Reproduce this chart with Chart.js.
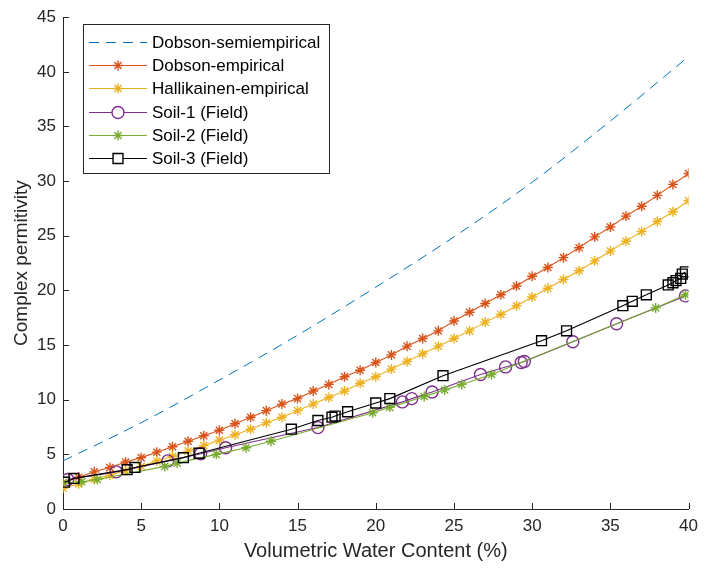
<!DOCTYPE html>
<html>
<head>
<meta charset="utf-8">
<script src="https://cdn.jsdelivr.net/npm/chart.js@4.4.1/dist/chart.umd.min.js"></script>
<style>
  html, body { margin: 0; padding: 0; background: #fff; }
  #wrap { width: 705px; height: 568px; }
</style>
</head>
<body>
<div id="wrap"><canvas id="myChart"></canvas></div>
<script>
    // Model curves (x = volumetric water content, %)
    const modelX = [0, 1, 2, 3, 4, 5, 6, 7, 8, 9, 10, 11, 12, 13, 14, 15, 16, 17, 18, 19, 20,
        21, 22, 23, 24, 25, 26, 27, 28, 29, 30, 31, 32, 33, 34, 35, 36, 37, 38, 39, 40];
    const dobsonEmpY = [2.4, 2.9, 3.4, 3.8, 4.3, 4.7, 5.2, 5.7, 6.2, 6.7, 7.2, 7.8, 8.4, 9.0, 9.6,
        10.1, 10.8, 11.4, 12.1, 12.7, 13.4, 14.1, 14.9, 15.6, 16.3, 17.2, 18.0, 18.8, 19.6, 20.4,
        21.3, 22.1, 23.0, 23.9, 24.9, 25.8, 26.8, 27.7, 28.7, 29.7, 30.7];
    const hallikainenY = [1.9, 2.3, 2.7, 3.1, 3.5, 3.9, 4.4, 4.8, 5.3, 5.8, 6.3, 6.8, 7.3, 7.9, 8.4,
        9.0, 9.6, 10.2, 10.8, 11.5, 12.1, 12.8, 13.5, 14.2, 14.9, 15.6, 16.3, 17.1, 17.8, 18.6,
        19.4, 20.2, 21.0, 21.8, 22.7, 23.6, 24.5, 25.4, 26.3, 27.2, 28.2];

    const semiX = [0, 5, 10, 15, 20, 25, 30, 35, 40];
    const semiY = [4.4, 7.9, 11.8, 15.9, 20.3, 24.9, 29.9, 35.5, 41.4];

    // Field measurements
    const soil1X = [0.3, 3.4, 6.7, 8.8, 10.4, 16.3, 21.7, 22.3, 23.6, 26.7, 28.3, 29.3, 29.5, 32.6, 35.4, 39.8];
    const soil1Y = [2.7, 3.4, 4.4, 5.05, 5.6, 7.45, 9.8, 10.1, 10.7, 12.3, 13.0, 13.4, 13.5, 15.3, 16.95, 19.5];

    const soil2X = [0, 1.2, 2.2, 6.5, 7.3, 9.8, 11.7, 13.3, 19.8, 20.9, 23.1, 24.4, 25.5, 27.4, 37.9, 39.8];
    const soil2Y = [2.4, 2.5, 2.7, 3.9, 4.2, 5.0, 5.6, 6.2, 8.8, 9.3, 10.3, 10.9, 11.4, 12.3, 18.4, 19.6];

    const soil3X = [0.1, 0.7, 4.1, 4.6, 7.7, 8.7, 14.6, 16.3, 17.2, 17.4, 18.2, 20.0, 20.9, 24.3,
        30.6, 32.2, 35.8, 36.4, 37.3, 38.7, 39.0, 39.2, 39.5, 39.6, 39.8];
    const soil3Y = [2.45, 2.8, 3.6, 3.8, 4.7, 5.1, 7.3, 8.1, 8.4, 8.5, 8.9, 9.7, 10.1, 12.2,
        15.4, 16.3, 18.6, 19.0, 19.6, 20.5, 20.7, 20.9, 21.1, 21.5, 21.7];

    const xTicks = [0, 5, 10, 15, 20, 25, 30, 35, 40];
    const yTicks = [0, 5, 10, 15, 20, 25, 30, 35, 40, 45];

    const pts = (xs, ys) => xs.map((x, i) => ({ x: x, y: ys[i] }));
    const FONT = "'Liberation Sans', Arial, sans-serif";
    const AXIS = '#262626';
    const NONE = 'rgba(0,0,0,0)';

    const datasets = [
        { label: 'Dobson-semiempirical', data: pts(semiX, semiY), borderColor: '#0072BD',
          borderWidth: 1, borderDash: [10, 7], pointRadius: 0, cubicInterpolationMode: 'monotone', order: 6 },
        { label: 'Dobson-empirical', data: pts(modelX, dobsonEmpY), borderColor: '#D95319',
          pointStyle: 'star', pointRadius: 5, order: 5 },
        { label: 'Hallikainen-empirical', data: pts(modelX, hallikainenY), borderColor: '#EDB120',
          pointStyle: 'star', pointRadius: 5, order: 4 },
        { label: 'Soil-1 (Field)', data: pts(soil1X, soil1Y), borderColor: '#7E2F8E',
          pointStyle: 'circle', pointRadius: 6, order: 3 },
        { label: 'Soil-2 (Field)', data: pts(soil2X, soil2Y), borderColor: '#77AC30',
          pointStyle: 'star', pointRadius: 5, order: 2 },
        { label: 'Soil-3 (Field)', data: pts(soil3X, soil3Y), borderColor: '#000000',
          pointStyle: 'rect', pointRadius: 7, order: 1 }
    ];
    datasets.forEach(d => {
        d.showLine = true;
        d.fill = false;
        d.backgroundColor = NONE;
        d.pointBorderColor = d.borderColor;
        d.pointBackgroundColor = NONE;
        d.pointBorderWidth = 1.4;
        if (d.borderWidth === undefined) d.borderWidth = 1.1;
    });

    // MATLAB style ticks pointing into the plot
    const inwardTicks = {
        id: 'inwardTicks',
        afterDatasetsDraw(chart) {
            const { ctx, chartArea: a, scales: { x, y } } = chart;
            ctx.save();
            ctx.strokeStyle = AXIS;
            ctx.lineWidth = 1;
            ctx.beginPath();
            x.ticks.forEach(t => {
                const px = Math.round(x.getPixelForValue(t.value)) + 0.5;
                ctx.moveTo(px, a.bottom);
                ctx.lineTo(px, a.bottom - 6);
            });
            y.ticks.forEach(t => {
                const py = Math.round(y.getPixelForValue(t.value)) + 0.5;
                ctx.moveTo(a.left, py);
                ctx.lineTo(a.left + 6, py);
            });
            ctx.stroke();
            ctx.restore();
        }
    };

    // legend box in the upper left corner, line + marker samples
    const boxLegend = {
        id: 'boxLegend',
        afterDraw(chart) {
            const ctx = chart.ctx;
            const bx = 83.5, by = 24.5, bw = 246, bh = 149;
            ctx.save();
            ctx.fillStyle = '#fff';
            ctx.fillRect(bx, by, bw, bh);
            ctx.strokeStyle = AXIS;
            ctx.lineWidth = 1;
            ctx.strokeRect(bx, by, bw, bh);
            ctx.font = '17px ' + FONT;
            ctx.textBaseline = 'middle';
            chart.data.datasets.forEach((d, i) => {
                const ly = Math.round(42 + i * 23.2) + 0.5;
                ctx.strokeStyle = d.borderColor;
                ctx.lineWidth = d.borderWidth;
                ctx.setLineDash(d.borderDash || []);
                ctx.beginPath();
                ctx.moveTo(89, ly);
                ctx.lineTo(147, ly);
                ctx.stroke();
                ctx.setLineDash([]);
                if (d.pointRadius > 0) {
                    ctx.lineWidth = d.pointBorderWidth;
                    ctx.fillStyle = '#fff';
                    Chart.helpers.drawPoint(ctx, { pointStyle: d.pointStyle, radius: d.pointRadius,
                        borderWidth: d.pointBorderWidth, rotation: 0 }, 118, ly);
                }
                ctx.fillStyle = '#000';
                ctx.fillText(d.label, 152, ly + 1);
            });
            ctx.restore();
        }
    };

    const ctx = document.getElementById('myChart').getContext('2d');
    const myChart = new Chart(ctx, {
        type: 'scatter',
        data: { datasets: datasets },
        options: {
            responsive: true,
            maintainAspectRatio: false,
            animation: false,
            layout: { padding: { left: 0, top: 13, right: 15, bottom: 0 } },
            plugins: { legend: { display: false }, tooltip: { enabled: false } },
            scales: {
                x: {
                    type: 'linear', min: 0, max: 40,
                    afterBuildTicks: s => { s.ticks = xTicks.map(v => ({ value: v })); },
                    afterFit: s => { s.height = 59; },
                    grid: { display: false, drawTicks: false },
                    border: { display: true, color: AXIS, width: 1 },
                    ticks: { color: AXIS, font: { family: FONT, size: 17 }, padding: 7, maxRotation: 0 },
                    title: { display: true, text: 'Volumetric Water Content (%)', color: AXIS,
                             font: { family: FONT, size: 20 }, padding: { top: 0, bottom: 5 } }
                },
                y: {
                    type: 'linear', min: 0, max: 45,
                    afterBuildTicks: s => { s.ticks = yTicks.map(v => ({ value: v })); },
                    afterFit: s => { s.width = 63; },
                    grid: { display: false, drawTicks: false },
                    border: { display: true, color: AXIS, width: 1 },
                    ticks: { color: AXIS, font: { family: FONT, size: 17 }, padding: 7 },
                    title: { display: true, text: 'Complex permitivity', color: AXIS,
                             font: { family: FONT, size: 19 }, padding: { top: 10, bottom: 0 } }
                }
            }
        },
        plugins: [inwardTicks, boxLegend]
    });
</script>
</body>
</html>
